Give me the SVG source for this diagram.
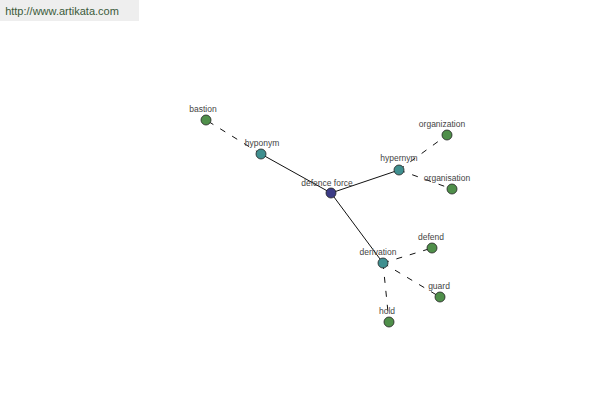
<svg xmlns="http://www.w3.org/2000/svg" width="600" height="400" viewBox="0 0 600 400">
<style>
text{font-family:"Liberation Sans",Arial,sans-serif;font-size:8.5px;fill:#444;text-anchor:middle}
.n{stroke:#222;stroke-width:0.8}
.c{fill:#3b3b86}.m{fill:#3f8f8f}.l{fill:#4f8f4a}
.s{stroke:#111;stroke-width:1;fill:none}
.d{stroke:#111;stroke-width:1;fill:none;stroke-dasharray:6 8}
</style>
<rect x="0" y="0" width="139" height="21" fill="#eeeeee"/>
<text x="62" y="15" style="font-size:11px;fill:#3a5a3a">http://www.artikata.com</text>
<g id="connectors">
<line class="s" x1="331" y1="193" x2="261" y2="154"/>
<line class="s" x1="331" y1="193" x2="399" y2="170"/>
<line class="s" x1="331" y1="193" x2="383" y2="263"/>
<line class="d" x1="261" y1="154" x2="206" y2="120"/>
<line class="d" x1="399" y1="170" x2="447" y2="135"/>
<line class="d" x1="399" y1="170" x2="452" y2="189"/>
<line class="d" x1="383" y1="263" x2="432" y2="248"/>
<line class="d" x1="383" y1="263" x2="440" y2="297"/>
<line class="d" x1="383" y1="263" x2="389" y2="322"/>
</g>
<g id="bastion"><circle class="n l" cx="206" cy="120" r="5"/><text x="203" y="112">bastion</text></g>
<g id="hyponym"><circle class="n m" cx="261" cy="154" r="5"/><text x="262" y="146">hyponym</text></g>
<g id="defence-force"><circle class="n c" cx="331" cy="193" r="5"/><text x="327" y="186">defence force</text></g>
<g id="hypernym"><circle class="n m" cx="399" cy="170" r="5"/><text x="399" y="161">hypernym</text></g>
<g id="organization"><circle class="n l" cx="447" cy="135" r="5"/><text x="442" y="127">organization</text></g>
<g id="organisation"><circle class="n l" cx="452" cy="189" r="5"/><text x="447" y="181">organisation</text></g>
<g id="derivation"><circle class="n m" cx="383" cy="263" r="5"/><text x="378" y="255">derivation</text></g>
<g id="defend"><circle class="n l" cx="432" cy="248" r="5"/><text x="431" y="240">defend</text></g>
<g id="guard"><circle class="n l" cx="440" cy="297" r="5"/><text x="439" y="289">guard</text></g>
<g id="hold"><circle class="n l" cx="389" cy="322" r="5"/><text x="387" y="314">hold</text></g>
</svg>
